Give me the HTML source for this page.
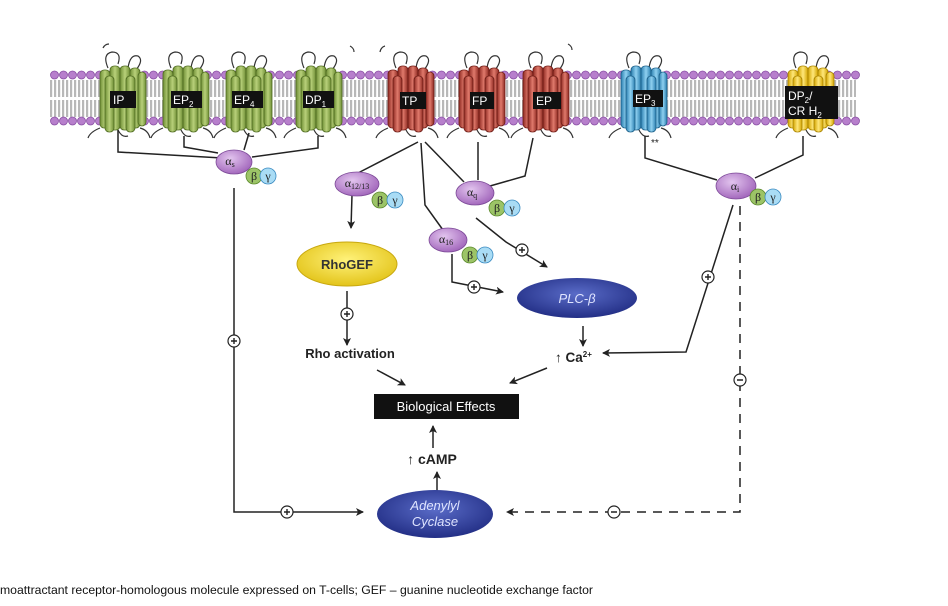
<!DOCTYPE html>
<html><head><meta charset="utf-8"><style>
html,body{margin:0;padding:0;background:#fff;}
svg{display:block;font-family:"Liberation Sans",sans-serif;}
</style></head><body>
<svg width="948" height="606" viewBox="0 0 948 606" xmlns="http://www.w3.org/2000/svg">
<defs>
<pattern id="heads" x="50" y="70" width="9" height="10" patternUnits="userSpaceOnUse">
<circle cx="4.5" cy="5" r="4" fill="#b77fcc" stroke="#8a4fa5" stroke-width="0.8"/>
</pattern>
<pattern id="heads2" x="50" y="116" width="9" height="10" patternUnits="userSpaceOnUse">
<circle cx="4.5" cy="5" r="4" fill="#b77fcc" stroke="#8a4fa5" stroke-width="0.8"/>
</pattern>
<pattern id="tails" x="50" y="0" width="4" height="10" patternUnits="userSpaceOnUse">
<rect x="0" y="0" width="2.2" height="10" fill="#b8b8b8"/>
</pattern>
<linearGradient id="gG" x1="0" x2="1"><stop offset="0" stop-color="#6f8f35"/><stop offset="0.5" stop-color="#b8d07a"/><stop offset="1" stop-color="#6f8f35"/></linearGradient>
<linearGradient id="gR" x1="0" x2="1"><stop offset="0" stop-color="#8e2a22"/><stop offset="0.5" stop-color="#e07a6c"/><stop offset="1" stop-color="#8e2a22"/></linearGradient>
<linearGradient id="gB" x1="0" x2="1"><stop offset="0" stop-color="#2b7fb0"/><stop offset="0.5" stop-color="#8fd0f0"/><stop offset="1" stop-color="#2b7fb0"/></linearGradient>
<linearGradient id="gY" x1="0" x2="1"><stop offset="0" stop-color="#d2a400"/><stop offset="0.5" stop-color="#ffe77a"/><stop offset="1" stop-color="#d2a400"/></linearGradient>
<radialGradient id="gPur" cx="0.4" cy="0.35" r="0.7"><stop offset="0" stop-color="#e2c4ee"/><stop offset="1" stop-color="#9f62b9"/></radialGradient>
<radialGradient id="gDB" cx="0.5" cy="0.4" r="0.6"><stop offset="0" stop-color="#5a6cc8"/><stop offset="1" stop-color="#232f86"/></radialGradient>
<radialGradient id="gYel" cx="0.5" cy="0.4" r="0.6"><stop offset="0" stop-color="#fff27a"/><stop offset="1" stop-color="#e3c41a"/></radialGradient>
<marker id="ar" markerWidth="8" markerHeight="8" refX="7" refY="4" orient="auto" markerUnits="userSpaceOnUse"><path d="M0,0 L8,4 L0,8 L2,4 z" fill="#222"/></marker>
<g id="rec">
<path d="M-14,-30 q-6,-14 4,-16 q10,0 6,12 M6,-30 q2,-14 10,-12 q6,4 -2,14 M-22,30 q-10,4 -12,10 M18,30 q8,2 10,10 M-4,32 q4,8 10,6" fill="none" stroke="#333" stroke-width="1.2"/>
<rect x="-22" y="-28" width="10" height="58" rx="4"/>
<rect x="-12" y="-32" width="10" height="64" rx="4"/>
<rect x="-2" y="-32" width="10" height="64" rx="4"/>
<rect x="8" y="-30" width="10" height="60" rx="4"/>
<rect x="16" y="-26" width="8" height="54" rx="4"/>
<rect x="-17" y="-22" width="9" height="56" rx="4"/>
<rect x="4" y="-22" width="9" height="56" rx="4"/>
</g>
</defs>
<rect width="948" height="606" fill="#fff"/>
<!-- membrane -->
<rect x="50" y="80" width="806" height="17" fill="url(#tails)"/>
<rect x="50" y="100" width="806" height="17" fill="url(#tails)"/>
<rect x="50" y="70" width="810" height="10" fill="url(#heads)"/>
<rect x="50" y="116" width="810" height="10" fill="url(#heads2)"/>
<!-- receptors -->
<g fill="url(#gG)" stroke="#4e6a20" stroke-width="0.8">
<use href="#rec" x="122" y="98"/><use href="#rec" x="185" y="98"/><use href="#rec" x="248" y="98"/><use href="#rec" x="318" y="98"/>
</g>
<g fill="url(#gR)" stroke="#6e1c16" stroke-width="0.8">
<use href="#rec" x="410" y="98"/><use href="#rec" x="481" y="98"/><use href="#rec" x="545" y="98"/>
</g>
<g fill="url(#gB)" stroke="#1c5f88" stroke-width="0.8"><use href="#rec" x="643" y="98"/></g>
<g fill="url(#gY)" stroke="#a88300" stroke-width="0.8"><use href="#rec" x="810" y="98"/></g>
<!-- receptor labels -->
<g fill="#111">
<rect x="110" y="91" width="26" height="17"/><rect x="171" y="91" width="31" height="17"/><rect x="232" y="91" width="31" height="17"/><rect x="303" y="91" width="31" height="17"/>
<rect x="400" y="92" width="26" height="17"/><rect x="470" y="92" width="24" height="17"/><rect x="533" y="92" width="28" height="17"/><rect x="633" y="90" width="30" height="17"/>
<rect x="785" y="86" width="53" height="33"/>
</g>
<g fill="#fff" font-size="12">
<text x="113" y="104">IP</text><text x="173" y="104">EP<tspan font-size="8" dy="3">2</tspan></text>
<text x="234" y="104">EP<tspan font-size="8" dy="3">4</tspan></text><text x="305" y="104">DP<tspan font-size="8" dy="3">1</tspan></text>
<text x="402" y="105">TP</text><text x="472" y="105">FP</text><text x="536" y="105">EP</text>
<text x="635" y="103">EP<tspan font-size="8" dy="3">3</tspan></text>
<text x="788" y="100">DP<tspan font-size="8" dy="3">2</tspan><tspan dy="-3">/</tspan></text>
<text x="788" y="115">CR H<tspan font-size="8" dy="3">2</tspan></text>
</g>
<!-- arcs above -->
<path d="M103,48 q2,-4 6,-4 M350,46 q4,2 4,6 M380,52 q1,-5 5,-6 M568,44 q4,2 4,6" fill="none" stroke="#333" stroke-width="1.2"/>
<!-- connectors -->
<g fill="none" stroke="#222" stroke-width="1.5">
<path d="M118,130 L118,152 L222,158"/><path d="M184,136 L184,147 L218,153"/><path d="M249,133 L244,150"/><path d="M318,136 L318,148 L252,157"/>
<path d="M234,188 L234,512 L363,512" marker-end="url(#ar)"/>
<path d="M418,142 L358,173"/>
<path d="M352,195 L351,228" marker-end="url(#ar)"/>
<path d="M421,143 L425,205 L443,230"/>
<path d="M425,142 L464,182"/>
<path d="M478,142 L478,180"/>
<path d="M533,138 L525,176 L490,186"/>
<path d="M476,218 L506,242 L547,267" marker-end="url(#ar)"/>
<path d="M452,254 L452,282 L503,292" marker-end="url(#ar)"/>
<path d="M347,291 L347,345" marker-end="url(#ar)"/>
<path d="M583,326 L583,346" marker-end="url(#ar)"/>
<path d="M645,136 L645,158 L717,180"/>
<path d="M803,136 L803,155 L755,178"/>
<path d="M733,205 L686,352 L603,353" marker-end="url(#ar)"/>
<path d="M377,370 L405,385" marker-end="url(#ar)"/>
<path d="M547,368 L510,383" marker-end="url(#ar)"/>
<path d="M433,448 L433,426" marker-end="url(#ar)"/>
<path d="M437,491 L437,472" marker-end="url(#ar)"/>
<path d="M740,206 L740,512 L507,512" stroke-dasharray="9,7" marker-end="url(#ar)"/>
</g>
<!-- plus/minus circles -->
<g fill="#fff" stroke="#222" stroke-width="1.2">
<circle cx="234" cy="341" r="6"/><circle cx="287" cy="512" r="6"/><circle cx="347" cy="314" r="6"/>
<circle cx="522" cy="250" r="6"/><circle cx="474" cy="287" r="6"/><circle cx="708" cy="277" r="6"/>
<circle cx="740" cy="380" r="6"/><circle cx="614" cy="512" r="6"/>
</g>
<g stroke="#222" stroke-width="1.4">
<path d="M231,341h6M234,338v6 M284,512h6M287,509v6 M344,314h6M347,311v6 M519,250h6M522,247v6 M471,287h6M474,284v6 M705,277h6M708,274v6 M737,380h6 M611,512h6"/>
</g>
<!-- G proteins -->
<g stroke="#7d4a98" stroke-width="0.8">
<ellipse cx="234" cy="162" rx="18" ry="12" fill="url(#gPur)"/>
<ellipse cx="357" cy="184" rx="22" ry="12" fill="url(#gPur)"/>
<ellipse cx="475" cy="193" rx="19" ry="12" fill="url(#gPur)"/>
<ellipse cx="448" cy="240" rx="19" ry="12" fill="url(#gPur)"/>
<ellipse cx="736" cy="186" rx="20" ry="13" fill="url(#gPur)"/>
</g>
<g stroke="#5c8a2c" stroke-width="0.8" fill="#9cc467">
<circle cx="254" cy="176" r="8"/><circle cx="380" cy="200" r="8"/><circle cx="497" cy="208" r="8"/><circle cx="470" cy="255" r="8"/><circle cx="758" cy="197" r="8"/>
</g>
<g stroke="#3a8ac0" stroke-width="0.8" fill="#a9dcf5">
<circle cx="268" cy="176" r="8"/><circle cx="395" cy="200" r="8"/><circle cx="512" cy="208" r="8"/><circle cx="485" cy="255" r="8"/><circle cx="773" cy="197" r="8"/>
</g>
<g font-family="Liberation Serif,serif" font-size="12" fill="#222" text-anchor="middle">
<text x="230" y="165">α<tspan font-size="8" dy="2">s</tspan></text>
<text x="357" y="187">α<tspan font-size="8" dy="2">12/13</tspan></text>
<text x="472" y="196">α<tspan font-size="8" dy="2">q</tspan></text>
<text x="446" y="243">α<tspan font-size="8" dy="2">16</tspan></text>
<text x="735" y="190">α<tspan font-size="8" dy="2">i</tspan></text>
<text x="254" y="180">β</text><text x="268" y="180">γ</text>
<text x="380" y="204">β</text><text x="395" y="204">γ</text>
<text x="497" y="212">β</text><text x="512" y="212">γ</text>
<text x="470" y="259">β</text><text x="485" y="259">γ</text>
<text x="758" y="201">β</text><text x="773" y="201">γ</text>
</g>
<text x="651" y="146" font-size="10" fill="#222">**</text>
<!-- effectors -->
<ellipse cx="347" cy="264" rx="50" ry="22" fill="url(#gYel)" stroke="#c8a810" stroke-width="1"/>
<text x="347" y="269" font-size="13" font-weight="bold" fill="#333" text-anchor="middle">RhoGEF</text>
<ellipse cx="577" cy="298" rx="60" ry="20" fill="url(#gDB)"/>
<text x="577" y="303" font-size="13" font-style="italic" fill="#dfe4ff" text-anchor="middle">PLC-β</text>
<text x="350" y="358" font-size="13" font-weight="bold" fill="#222" text-anchor="middle">Rho activation</text>
<text x="555" y="362" font-size="13.5" font-weight="bold" fill="#222">↑ Ca<tspan font-size="8" dy="-5">2+</tspan></text>
<rect x="374" y="394" width="145" height="25" fill="#111"/>
<text x="446" y="411" font-size="13" fill="#fff" text-anchor="middle">Biological Effects</text>
<text x="432" y="464" font-size="14" font-weight="bold" fill="#222" text-anchor="middle">↑ cAMP</text>
<ellipse cx="435" cy="514" rx="58" ry="24" fill="url(#gDB)"/>
<text x="435" y="510" font-size="13" font-style="italic" fill="#dfe4ff" text-anchor="middle">Adenylyl</text>
<text x="435" y="526" font-size="13" font-style="italic" fill="#dfe4ff" text-anchor="middle">Cyclase</text>
<text x="0" y="594" font-size="12.2" fill="#111" textLength="593" lengthAdjust="spacingAndGlyphs">moattractant receptor-homologous molecule expressed on T-cells; GEF – guanine nucleotide exchange factor</text>
</svg>
</body></html>
